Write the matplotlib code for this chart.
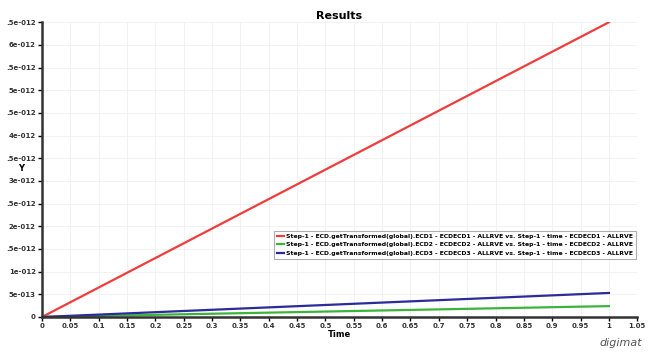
import matplotlib
matplotlib.use('Agg')
import matplotlib.pyplot as plt

# data
time = [0.0, 1.0]
ecd1 = [0.0, 6.5e-12]
ecd2 = [0.0, 2.4e-13]
ecd3 = [0.0, 5.3e-13]

series_names = [
    "Step-1 - ECD.getTransformed(global).ECD1 - ECDECD1 - ALLRVE vs. Step-1 - time - ECDECD1 - ALLRVE",
    "Step-1 - ECD.getTransformed(global).ECD2 - ECDECD2 - ALLRVE vs. Step-1 - time - ECDECD2 - ALLRVE",
    "Step-1 - ECD.getTransformed(global).ECD3 - ECDECD3 - ALLRVE vs. Step-1 - time - ECDECD3 - ALLRVE",
]
series_colors = ['#f03c3c', '#3cb43c', '#2b2b9a']

y_ticks = [i * 5e-13 for i in range(14)]
y_labels = ['0', '5e-013', '1e-012', '.5e-012', '2e-012', '.5e-012', '3e-012',
            '.5e-012', '4e-012', '.5e-012', '5e-012', '.5e-012', '6e-012', '.5e-012']
x_ticks = [round(i * 0.05, 2) for i in range(22)]
x_labels = ['0'] + ['%g' % v for v in x_ticks[1:]]

fig = plt.figure(figsize=(6.52, 3.53), dpi=100)
ax = fig.add_axes([0.0644, 0.102, 0.913, 0.835])

for ys, name, c in zip([ecd1, ecd2, ecd3], series_names, series_colors):
    ax.plot(time, ys, color=c, linewidth=1.6, label=name)

ax.set_xlim(0, 1.05)
ax.set_ylim(0, 6.5e-12)
ax.set_xticks(x_ticks)
ax.set_xticklabels(x_labels, fontsize=5, fontweight='bold', color='#333333')
ax.set_yticks(y_ticks)
ax.set_yticklabels(y_labels, fontsize=5, fontweight='bold', color='#333333')
ax.tick_params(length=3, width=1, pad=1.5)
ax.grid(True, color='#f0f0f0', linewidth=0.6)
ax.set_axisbelow(True)

for s in ['top', 'right']:
    ax.spines[s].set_visible(False)
for s in ['left', 'bottom']:
    ax.spines[s].set_linewidth(1.8)
    ax.spines[s].set_color('#333333')

fig.text(0.52, 0.955, 'Results', fontsize=8, fontweight='bold', ha='center', va='center')
fig.text(0.033, 0.522, 'Y', fontsize=6, fontweight='bold', ha='center', va='center')
fig.text(0.52, 0.052, 'Time', fontsize=6, fontweight='bold', ha='center', va='center')
fig.text(0.985, 0.015, 'digimat', fontsize=8, style='italic', color='#555555',
         ha='right', va='bottom')

leg = ax.legend(loc='upper left', bbox_to_anchor=(0.39, 0.293), fontsize=4.4,
                frameon=True, fancybox=False, borderpad=0.45, labelspacing=0.55,
                handlelength=1.2, handletextpad=0.3, borderaxespad=0)
leg.get_frame().set_edgecolor('#999999')
leg.get_frame().set_linewidth(0.8)
for t in leg.get_texts():
    t.set_fontweight('bold')

fig.savefig('out.png', dpi=100)
